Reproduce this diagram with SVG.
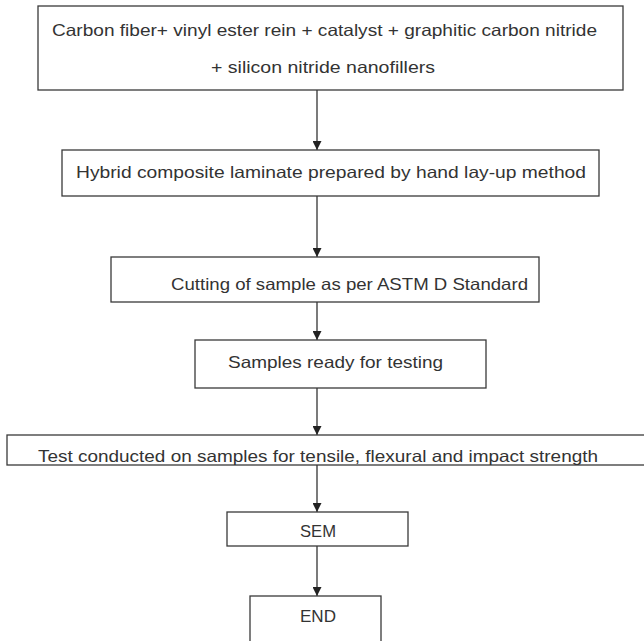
<svg xmlns="http://www.w3.org/2000/svg" width="644" height="641" viewBox="0 0 644 641">
<style>
.box{fill:#fff;stroke:#3a3a3a;stroke-width:1.3}
.t{font-family:"Liberation Sans",Arial,sans-serif;font-size:16.5px;fill:#333}
.c{stroke:#333;stroke-width:1.3;fill:none}
</style>
<defs>
<marker id="ah" viewBox="0 0 10 10" refX="10" refY="5" markerWidth="9" markerHeight="9" markerUnits="userSpaceOnUse" orient="auto">
<path d="M0,0 L10,5 L0,10 z" fill="#222"/>
</marker>
</defs>
<rect width="644" height="641" fill="#fff"/>
<g id="connectors">
<line class="c" x1="317" y1="90" x2="317" y2="150" marker-end="url(#ah)"/>
<line class="c" x1="317" y1="196" x2="317" y2="257" marker-end="url(#ah)"/>
<line class="c" x1="317" y1="302" x2="317" y2="340" marker-end="url(#ah)"/>
<line class="c" x1="317" y1="388" x2="317" y2="435" marker-end="url(#ah)"/>
<line class="c" x1="317" y1="465" x2="317" y2="512" marker-end="url(#ah)"/>
<line class="c" x1="317" y1="546" x2="317" y2="596" marker-end="url(#ah)"/>
</g>
<g id="n1"><rect class="box" x="38" y="6" width="585" height="84"/>
<text class="t" x="52" y="36" textLength="545" lengthAdjust="spacingAndGlyphs">Carbon fiber+ vinyl ester rein + catalyst + graphitic carbon nitride</text>
<text class="t" x="211" y="73" textLength="224" lengthAdjust="spacingAndGlyphs">+ silicon nitride nanofillers</text></g>
<g id="n2"><rect class="box" x="62" y="150" width="537" height="46"/>
<text class="t" x="76" y="178" textLength="510" lengthAdjust="spacingAndGlyphs">Hybrid composite laminate prepared by hand lay-up method</text></g>
<g id="n3"><rect class="box" x="111" y="257" width="428" height="45"/>
<text class="t" x="171" y="290" textLength="357" lengthAdjust="spacingAndGlyphs">Cutting of sample as per ASTM D Standard</text></g>
<g id="n4"><rect class="box" x="195" y="340" width="291" height="48"/>
<text class="t" x="228" y="368" textLength="215" lengthAdjust="spacingAndGlyphs">Samples ready for testing</text></g>
<g id="n5"><rect class="box" x="7" y="435" width="645" height="30"/>
<text class="t" x="38" y="462" textLength="560" lengthAdjust="spacingAndGlyphs">Test conducted on samples for tensile, flexural and impact strength</text></g>
<g id="n6"><rect class="box" x="227" y="512" width="181" height="34"/>
<text class="t" x="300" y="537" textLength="36" lengthAdjust="spacingAndGlyphs">SEM</text></g>
<g id="n7"><rect class="box" x="250" y="596" width="131" height="50"/>
<text class="t" x="300" y="622" textLength="36" lengthAdjust="spacingAndGlyphs">END</text></g>
</svg>
